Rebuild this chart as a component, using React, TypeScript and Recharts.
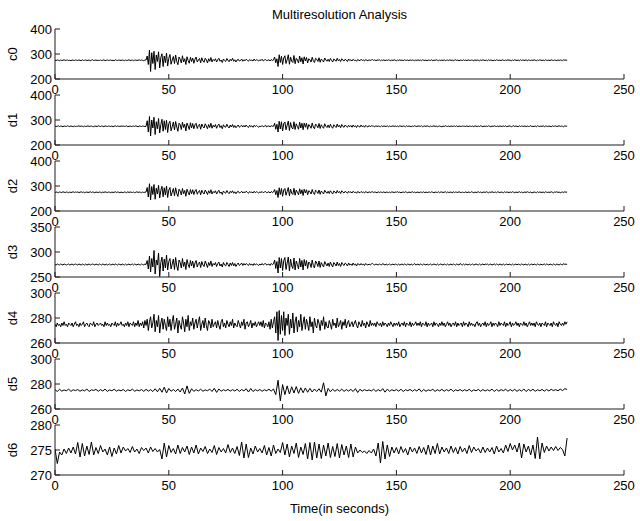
import React from 'react';
import { LineChart, Line, XAxis, YAxis } from 'recharts';

const FONT = '"Liberation Sans", Arial, Helvetica, sans-serif';
const TIME_TICKS = [0, 50, 100, 150, 200, 250];
const TIME_DOMAIN = [0, 250];
const FINE_STEP = 0.5;
const COARSE_STEP = 1;
const TITLE = 'Multiresolution Analysis';
const X_LABEL = 'Time(in seconds)';

// c0..d4 sampled every 0.5 s, 0..225 s
const c0 = [
  275,274,276,275,273,276,274,275,277,274,275,276,274,275,273,276,275,274,276,275,
  274,276,275,273,277,274,275,276,274,275,276,273,275,277,274,275,276,274,275,274,
  276,274,275,277,273,275,276,274,275,276,274,275,273,277,275,274,276,275,274,276,
  275,273,276,274,275,277,274,275,276,273,275,276,274,275,277,274,276,275,273,276,
  276,292,258,316,230,305,262,311,238,296,270,309,244,286,301,250,292,265,304,252,
  283,298,259,276,290,262,296,270,257,288,279,264,293,268,281,258,289,274,263,287,
  270,284,263,279,288,268,276,282,265,285,272,267,283,277,264,281,271,286,268,278,
  273,281,268,277,283,271,276,266,280,274,270,282,275,269,279,273,283,271,277,268,
  276,279,272,274,280,271,277,273,279,275,271,278,274,276,272,280,273,277,275,272,
  277,274,279,272,276,278,273,275,277,272,278,274,276,288,265,281,250,297,266,291,
  258,284,293,262,277,297,259,288,271,266,294,261,283,276,264,292,269,285,260,289,
  272,286,264,281,277,268,287,273,266,283,279,270,285,267,280,274,268,284,276,271,
  279,270,282,274,268,280,276,271,283,273,278,270,281,275,272,279,276,270,280,274,
  277,272,279,274,276,271,278,275,273,279,274,276,272,278,275,273,277,274,276,278,
  274,277,273,276,275,277,273,276,274,277,273,276,274,277,275,273,276,274,277,275,
  273,276,274,277,274,276,273,277,275,274,276,273,277,274,276,275,273,276,274,277,
  274,276,273,277,275,274,276,273,276,275,274,277,273,276,274,277,275,273,276,274,
  276,274,277,273,275,276,274,277,274,276,273,275,277,274,276,273,276,275,274,277,
  274,276,273,277,275,274,276,275,273,277,274,276,275,273,276,274,277,275,274,276,
  273,277,274,276,275,273,276,274,277,275,274,276,273,277,275,274,276,274,277,275,
  275,273,276,274,277,275,274,276,273,277,274,276,275,274,277,273,276,275,274,276,
  274,277,275,273,276,274,277,275,274,276,273,277,275,274,276,273,277,275,274,276,
  275,273,277,274,276,275,274,277,275,276,275,
];

const d1 = [
  276,274,275,277,274,276,275,273,276,275,274,277,275,274,276,275,273,276,274,275,
  275,277,274,276,275,273,276,274,275,277,274,275,276,274,273,276,275,274,277,275,
  274,276,275,273,277,275,274,276,275,274,276,273,275,277,274,276,275,274,276,275,
  276,274,275,277,273,275,276,274,275,276,274,277,275,273,276,275,274,276,275,274,
  275,297,252,314,236,300,268,311,242,293,265,306,248,282,303,255,297,262,299,250,
  286,295,257,273,292,260,294,272,255,287,281,262,291,270,283,256,288,276,262,289,
  268,286,265,281,287,266,278,283,263,284,274,268,285,276,265,282,270,287,267,279,
  272,282,267,278,284,270,277,265,281,273,271,283,274,268,280,272,282,270,278,269,
  275,280,271,275,279,272,278,272,280,274,270,279,273,277,271,279,274,278,274,271,
  276,273,278,273,275,279,272,276,276,273,277,275,275,287,263,283,252,295,264,293,
  256,286,292,261,279,296,258,290,270,264,293,262,285,274,263,291,268,287,261,288,
  271,287,263,282,276,267,288,272,265,284,278,269,286,266,281,273,267,285,275,270,
  280,269,283,273,267,281,275,270,284,272,279,269,282,274,271,280,275,271,279,273,
  278,271,280,273,277,270,279,274,272,280,273,277,271,279,274,272,278,273,277,276,
  275,273,277,274,276,275,273,277,274,276,275,274,277,273,276,274,275,277,274,276,
  274,276,273,277,275,274,276,275,273,277,274,276,275,273,276,274,277,275,274,276,
  276,274,277,273,275,276,274,277,275,273,276,274,275,277,274,276,273,275,276,274,
  273,276,274,277,275,274,276,273,277,274,275,276,274,277,273,276,275,274,276,275,
  275,274,277,273,276,275,274,276,273,277,275,274,276,274,277,275,273,276,274,276,
  274,277,275,273,276,274,277,275,274,276,273,277,274,275,276,274,277,273,275,276,
  276,273,275,277,274,276,275,273,277,274,276,275,274,277,273,276,274,275,277,274,
  275,274,276,273,277,275,274,276,274,277,273,276,275,274,276,275,273,277,274,276,
  276,274,275,277,274,276,275,273,277,275,276,
];

const d2 = [
  274,276,275,273,276,275,274,277,275,274,276,275,273,276,274,275,277,274,276,275,
  276,274,275,277,274,276,273,275,276,274,275,277,274,276,275,273,276,275,274,276,
  275,273,276,274,277,275,274,276,275,273,276,274,275,277,274,276,275,273,276,274,
  274,276,275,273,277,274,276,275,274,276,273,275,277,274,276,275,273,276,274,275,
  276,294,256,309,244,298,266,306,247,291,268,303,252,283,299,257,293,264,300,254,
  284,294,260,275,290,261,293,270,258,287,280,264,290,269,282,259,287,275,264,286,
  269,285,266,280,286,267,277,282,265,283,273,268,284,276,266,281,271,285,268,278,
  273,281,268,277,283,271,276,266,280,274,271,282,274,269,279,273,281,271,277,269,
  276,279,272,274,279,272,277,273,279,275,271,278,274,276,272,279,273,277,275,272,
  276,274,278,273,276,278,273,275,277,272,278,274,276,286,265,282,254,293,266,290,
  259,284,290,263,278,294,261,288,271,266,291,263,284,275,265,289,269,285,262,287,
  272,285,265,281,277,268,286,273,266,283,278,270,284,267,280,274,268,283,276,271,
  279,270,281,274,268,280,276,271,282,273,278,270,281,275,272,279,276,271,279,274,
  277,272,279,274,276,271,278,275,273,278,274,276,272,278,275,273,277,274,276,277,
  274,276,275,273,277,274,276,275,274,277,273,276,275,274,276,273,277,275,274,276,
  275,277,274,276,273,275,276,274,277,275,273,276,274,275,277,274,276,273,275,276,
  273,276,275,274,277,273,276,274,275,276,274,277,275,273,276,275,274,277,273,276,
  276,274,275,277,273,276,274,275,276,273,277,274,276,275,274,277,275,273,276,274,
  274,277,273,276,275,274,277,275,273,276,274,275,277,274,276,273,275,276,274,277,
  275,273,276,274,277,275,274,276,273,277,275,274,276,275,273,277,274,276,275,274,
  276,274,277,275,273,276,274,275,277,274,276,273,275,276,274,277,275,274,276,273,
  274,276,275,273,277,274,276,275,274,276,273,277,275,274,276,274,277,275,273,276,
  275,277,274,276,273,275,276,274,277,275,276,
];

const d3 = [
  275,274,276,275,274,276,275,274,276,275,274,275,276,274,275,276,274,275,276,275,
  274,276,275,274,276,275,274,276,274,275,276,274,275,276,275,274,276,275,274,276,
  275,274,276,275,274,276,274,275,276,274,275,276,274,276,275,274,276,275,274,276,
  275,274,276,274,275,276,274,275,276,274,276,275,274,276,275,274,276,275,274,276,
  275,283,266,292,260,287,270,303,256,284,274,298,251,279,290,262,286,268,294,264,
  281,287,266,276,286,265,289,272,263,284,279,268,287,271,280,265,285,275,269,283,
  272,282,268,278,283,270,277,280,269,281,274,271,282,276,269,279,273,282,271,277,
  274,279,271,277,280,272,276,270,279,274,272,279,275,271,278,273,279,272,277,271,
  275,278,273,275,278,273,277,274,277,275,273,277,274,276,273,277,274,276,275,273,
  276,274,277,274,276,277,274,275,276,273,277,275,276,284,267,281,258,289,268,287,
  263,283,289,265,278,290,262,286,272,267,288,264,282,275,266,287,270,283,264,285,
  272,283,267,280,277,269,284,273,268,282,278,271,282,269,279,274,270,281,276,272,
  278,271,280,274,270,279,276,272,280,273,277,271,279,275,273,278,276,272,278,274,
  276,273,278,274,276,272,277,275,274,277,274,276,273,277,275,274,276,274,276,277,
  275,274,276,275,274,276,275,274,277,275,274,276,274,275,276,274,275,276,274,276,
  275,274,276,274,275,276,274,276,275,274,276,275,274,276,274,275,277,274,275,276,
  274,276,275,274,276,275,274,276,274,275,276,274,275,276,275,274,276,274,275,276,
  275,274,276,275,274,276,274,275,276,274,276,275,274,276,275,274,277,275,274,276,
  274,276,275,274,276,274,275,276,274,275,276,275,274,276,274,275,276,274,276,275,
  276,274,275,276,274,275,276,274,276,275,274,276,275,274,276,274,275,276,274,276,
  275,274,276,274,275,276,274,276,275,274,276,275,274,276,275,274,276,274,275,276,
  274,276,275,274,276,275,274,276,274,275,276,274,276,275,274,276,275,274,276,275,
  274,276,275,274,276,275,274,277,275,276,275,
];

const d4 = [
  275,273,276,274,275,273,276,274,277,274,275,273,276,275,274,276,273,275,277,274,
  275,273,276,274,275,277,273,275,276,274,273,276,275,274,277,273,275,276,274,275,
  276,274,275,273,277,274,276,274,275,273,276,275,274,277,273,276,274,275,277,274,
  275,273,276,274,277,273,276,275,274,277,273,276,274,278,273,276,274,277,272,278,
  274,279,270,277,281,272,276,283,269,278,273,282,268,276,280,271,279,274,270,281,
  273,279,270,277,282,271,275,280,268,278,274,271,281,276,269,279,273,282,270,277,
  274,280,271,276,279,272,277,281,270,275,278,272,280,274,270,278,276,272,279,273,
  275,277,272,278,274,271,277,279,273,276,272,278,275,273,277,274,279,272,276,274,
  273,278,275,272,277,274,279,271,276,277,273,275,278,272,276,274,277,273,275,277,
  274,277,273,278,272,276,275,273,277,271,279,272,277,281,268,285,262,286,267,282,
  270,285,266,280,274,283,267,279,272,284,268,277,281,269,278,273,283,270,276,281,
  271,279,275,270,281,273,277,268,280,274,272,279,276,270,278,274,281,271,277,273,
  272,278,275,271,279,274,276,272,280,273,275,278,271,277,274,279,272,276,278,273,
  275,277,273,276,278,274,272,277,275,273,278,274,276,272,277,275,273,278,274,276,
  274,276,273,277,275,274,276,273,277,274,276,275,273,276,274,277,275,273,276,274,
  276,274,277,273,275,276,274,277,273,276,275,274,277,273,276,274,275,277,274,276,
  274,277,273,276,275,274,277,273,276,274,275,276,273,277,274,276,275,273,276,274,
  277,274,276,273,275,277,274,276,273,275,276,274,277,273,276,274,275,276,273,277,
  274,276,275,273,277,274,276,274,275,273,276,277,274,276,273,275,276,274,277,273,
  276,274,275,277,273,276,274,276,275,273,277,274,276,275,274,277,273,276,274,275,
  277,273,276,274,275,277,274,276,273,276,275,274,277,274,276,273,275,277,274,276,
  274,276,273,277,275,274,276,273,276,275,274,277,273,276,275,274,276,273,277,275,
  274,276,273,277,275,274,276,274,277,275,277,
];

// d5 and d6 sampled every 1 s, 0..225 s
const d5 = [
  275.5,274.0,275.8,274.3,275.2,274.6,275.9,274.1,275.4,274.7,
  275.6,274.2,275.3,274.5,276.0,274.0,275.4,274.8,275.7,274.2,
  275.5,274.4,275.9,274.1,275.3,274.6,275.8,274.3,275.2,274.5,
  275.7,274.0,275.4,274.6,275.9,274.2,275.3,274.5,275.6,274.1,
  275.8,274.3,275.5,274.0,276.2,273.8,276.5,273.4,277.5,272.8,
  276.4,274.2,275.6,274.0,276.0,273.6,276.8,272.0,278.5,272.5,
  276.2,274.1,275.5,274.4,275.8,274.2,275.3,274.6,275.9,274.0,
  276.6,273.3,276.0,274.2,275.4,274.6,275.7,274.3,275.5,274.4,
  275.8,274.1,275.6,274.5,276.2,273.6,276.4,274.0,275.5,274.5,
  275.6,274.2,275.4,274.6,275.8,274.3,276.0,271.5,283.0,266.5,
  279.5,271.5,278.5,272.0,277.8,272.8,278.0,272.5,277.0,273.0,
  276.8,273.4,276.5,273.6,276.0,274.0,276.2,273.5,281.0,270.5,
  276.5,273.8,275.8,274.2,275.6,274.3,275.9,274.1,275.5,274.4,
  275.7,274.0,276.3,273.2,275.8,274.3,275.5,274.6,275.3,274.4,
  275.8,274.1,275.5,274.3,276.3,273.5,275.9,274.2,275.4,274.5,
  275.6,274.3,275.8,274.0,275.4,274.6,275.7,274.2,275.5,274.4,
  276.1,273.8,275.6,274.2,275.3,274.7,275.8,274.1,275.4,274.5,
  275.7,274.2,275.5,274.5,275.9,274.0,275.4,274.6,275.6,274.3,
  275.5,274.4,275.8,274.1,275.3,274.6,275.7,274.2,275.6,274.4,
  275.4,274.5,275.9,274.0,275.6,274.3,275.5,274.6,275.8,274.2,
  275.6,274.4,275.7,274.1,275.5,274.3,276.0,274.0,275.6,274.5,
  275.8,274.2,275.4,274.6,275.7,274.3,275.6,274.4,275.8,274.7,
  275.5,274.6,275.9,274.8,276.2,275.7,
];

const d6 = [
  275.2,272.3,274.6,274.0,275.2,274.3,275.4,274.4,275.6,274.2,
  276.5,273.6,276.3,273.8,275.8,274.1,276.6,274.0,275.5,274.3,
  275.9,274.6,275.2,274.0,275.6,273.7,275.4,274.2,275.9,274.4,
  275.6,274.8,275.3,274.5,275.7,274.6,275.2,274.3,275.5,274.9,
  275.4,274.4,275.6,274.7,275.3,274.6,275.1,273.2,276.4,273.6,
  275.9,274.5,275.3,274.2,276.0,274.3,275.5,274.6,275.8,274.1,
  275.6,274.4,276.0,274.2,275.4,274.7,275.7,274.3,275.2,274.5,
  275.9,274.1,275.5,274.6,275.3,274.4,276.1,274.5,275.4,274.3,
  275.7,273.9,276.6,273.4,276.2,273.5,275.4,274.2,275.8,274.6,
  275.3,274.4,275.9,274.0,275.5,273.8,276.0,274.3,275.2,274.5,
  276.5,274.0,276.2,273.6,275.8,274.3,276.4,273.5,275.6,274.1,
  276.3,273.2,276.5,273.0,276.6,273.4,276.2,273.3,276.0,273.8,
  276.4,273.5,275.7,273.7,276.3,273.4,276.1,274.0,275.8,273.5,
  276.2,273.6,275.6,274.4,275.0,274.5,274.8,274.3,274.9,274.4,
  275.2,273.8,276.4,272.4,276.7,273.2,276.0,273.7,275.6,274.4,
  275.5,274.2,275.7,274.5,275.3,274.0,275.6,274.6,275.4,274.3,
  275.7,274.4,275.5,274.1,276.0,274.0,275.8,274.3,276.3,274.2,
  275.6,274.6,275.4,274.3,275.8,274.5,275.5,274.2,275.7,274.6,
  275.4,274.3,275.9,274.5,275.6,274.8,275.3,274.4,275.6,274.5,
  275.4,274.6,275.5,274.2,275.8,274.6,275.3,274.4,276.0,274.7,
  276.3,275.0,276.0,274.6,276.4,273.4,276.2,274.6,275.8,274.0,
  276.0,273.3,277.6,273.2,276.4,274.5,275.8,274.8,275.6,274.9,
  275.7,274.9,275.5,275.1,273.8,277.4,
];

const PANEL_NAMES = ['c0', 'd1', 'd2', 'd3', 'd4', 'd5', 'd6'];
const PANEL_VALUES = [c0, d1, d2, d3, d4, d5, d6];
const PANEL_STEPS = [FINE_STEP, FINE_STEP, FINE_STEP, FINE_STEP, FINE_STEP, COARSE_STEP, COARSE_STEP];
const PANEL_Y_TICKS = [
  [200, 300, 400],
  [200, 300, 400],
  [200, 300, 400],
  [250, 300, 350],
  [260, 280, 300],
  [260, 280, 300],
  [270, 275, 280],
];

const PLOT_LEFT = 55;
const PLOT_RIGHT = 624;
const FIRST_TOP = 29;
const PANEL_GAP = 66;
const PLOT_H = 50;
const PAD_TOP = 8;
const X_AXIS_H = 22;
const AXIS_COLOR = '#1c1c1c';

function Panel({ idx }: { idx: number }) {
  const values = PANEL_VALUES[idx];
  const step = PANEL_STEPS[idx];
  const yTicks = PANEL_Y_TICKS[idx];
  const data = values.map((v, i) => ({ t: i * step, v }));
  const top = FIRST_TOP + idx * PANEL_GAP;
  const h = PAD_TOP + PLOT_H + X_AXIS_H;
  const tickStyle = { fill: '#000', fontSize: 13, fontFamily: FONT };
  const yDomain = [yTicks[0], yTicks[2]];
  return (
    <div style={{ position: 'absolute', left: 0, top: top - PAD_TOP, width: 640, height: h }}>
      <LineChart
        width={640}
        height={h}
        data={data}
        margin={{ top: PAD_TOP, right: 640 - PLOT_RIGHT, bottom: 0, left: 0 }}
      >
        <XAxis
          dataKey="t"
          type="number"
          domain={TIME_DOMAIN}
          ticks={TIME_TICKS}
          interval={0}
          height={X_AXIS_H}
          tickSize={-5}
          tickMargin={11}
          stroke={AXIS_COLOR}
          tick={tickStyle}
          allowDataOverflow
        />
        <XAxis
          xAxisId="top"
          orientation="top"
          type="number"
          domain={TIME_DOMAIN}
          ticks={TIME_TICKS}
          interval={0}
          height={0}
          tickSize={-5}
          tick={false}
          stroke={AXIS_COLOR}
          allowDataOverflow
        />
        <YAxis
          type="number"
          domain={yDomain}
          ticks={yTicks}
          interval={0}
          width={PLOT_LEFT}
          tickSize={-5}
          tickMargin={8}
          stroke={AXIS_COLOR}
          tick={tickStyle}
          allowDataOverflow
        />
        <YAxis
          yAxisId="right"
          orientation="right"
          type="number"
          domain={yDomain}
          ticks={yTicks}
          interval={0}
          width={0}
          tickSize={-5}
          tick={false}
          stroke={AXIS_COLOR}
          allowDataOverflow
        />
        <Line
          dataKey="v"
          type="linear"
          stroke="#000"
          strokeWidth={1}
          dot={false}
          activeDot={false}
          isAnimationActive={false}
        />
      </LineChart>
    </div>
  );
}

export default function App() {
  const cx = (PLOT_LEFT + PLOT_RIGHT) / 2;
  return (
    <div style={{ position: 'absolute', left: 0, top: 0, width: 640, height: 521, background: '#fff', overflow: 'hidden' }}>
      {PANEL_NAMES.map((_, i) => (
        <Panel key={i} idx={i} />
      ))}
      <svg
        width={640}
        height={521}
        style={{ position: 'absolute', left: 0, top: 0, pointerEvents: 'none' }}
      >
        <text x={cx} y={14} textAnchor="middle" dominantBaseline="central" fontSize={13} fontFamily={FONT} fill="#000">
          {TITLE}
        </text>
        {PANEL_NAMES.map((name, i) => {
          const y = FIRST_TOP + i * PANEL_GAP + PLOT_H / 2;
          return (
            <text
              key={name}
              x={12}
              y={y}
              transform={`rotate(-90 12 ${y})`}
              textAnchor="middle"
              dominantBaseline="central"
              fontSize={13}
              fontFamily={FONT}
              fill="#000"
            >
              {name}
            </text>
          );
        })}
        <text x={cx} y={508} textAnchor="middle" dominantBaseline="central" fontSize={13} fontFamily={FONT} fill="#000">
          {X_LABEL}
        </text>
      </svg>
    </div>
  );
}
